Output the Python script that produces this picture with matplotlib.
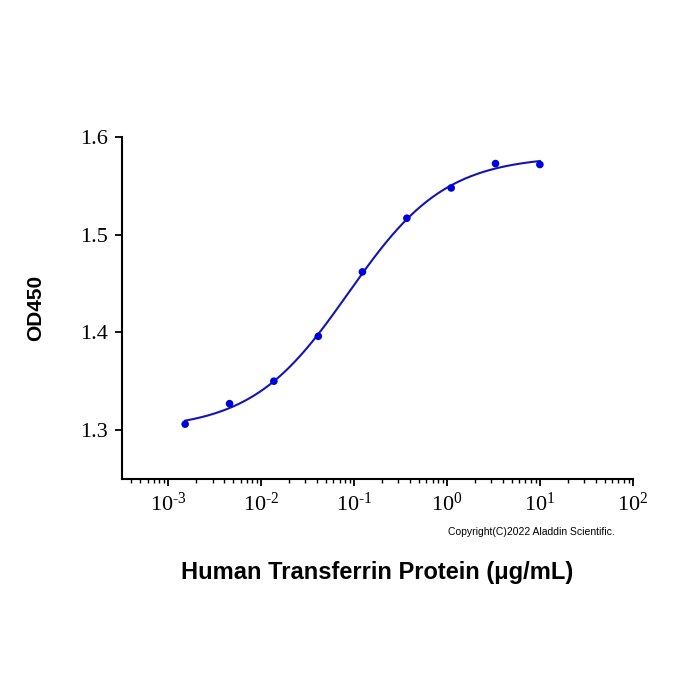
import numpy as np
import matplotlib
matplotlib.use("Agg")
import matplotlib.pyplot as plt

# measured points (concentration in ug/mL, OD450)
conc = [0.00152, 0.00457, 0.0137, 0.0412, 0.123, 0.370, 1.11, 3.33, 10.0]
od450 = [1.306, 1.327, 1.350, 1.396, 1.462, 1.517, 1.548, 1.573, 1.572]

x_ticks = [1e-3, 1e-2, 1e-1, 1e0, 1e1, 1e2]
x_exps = [-3, -2, -1, 0, 1, 2]
y_ticks = [1.3, 1.4, 1.5, 1.6]

plt.rcParams['mathtext.fontset'] = 'custom'
plt.rcParams['mathtext.rm'] = 'Liberation Serif'
plt.rcParams['mathtext.default'] = 'regular'

x = np.array(conc)
y = np.array(od450)

# 4PL fit: grid over EC50 and hill slope, bottom/top by least squares
best = None
for logc in np.linspace(-2.5, 0, 251):
    for b in np.linspace(0.4, 2.5, 211):
        s = 1.0 / (1.0 + (x / 10**logc) ** b)
        M = np.column_stack([s, 1 - s])
        coef, *_ = np.linalg.lstsq(M, y, rcond=None)
        err = np.sum((M @ coef - y) ** 2)
        if best is None or err < best[0]:
            best = (err, logc, b, coef)
_, logc, b, (bottom, top) = best

xs = np.logspace(np.log10(x.min()), np.log10(x.max()), 300)
ys = top + (bottom - top) / (1.0 + (xs / 10**logc) ** b)

fig = plt.figure(figsize=(7, 7), dpi=100)
ax = fig.add_axes([0.174, 0.316, 0.730, 0.488])

ax.plot(xs, ys, color='#1414B4', lw=1.5)
ax.scatter(x, y, s=30, color='#0000DD', zorder=3, edgecolors='none')

ax.set_xscale('log')
ax.set_xlim(10**-3.5, 1e2)
ax.set_ylim(1.25, 1.6)
ax.set_xticks(x_ticks)
ax.set_xticklabels([f"$10^{{\\text{{{e}}}}}$" for e in x_exps])
ax.set_yticks(y_ticks)
ax.set_yticklabels([f"{v:.1f}" for v in y_ticks])

for s in ['top', 'right']:
    ax.spines[s].set_visible(False)
for s in ['left', 'bottom']:
    ax.spines[s].set_linewidth(1.5)

ax.tick_params(axis='both', which='major', direction='out', length=5, width=1.3,
               labelsize=16, pad=5)
ax.tick_params(axis='x', which='minor', direction='out', length=3, width=1.0)
for lab in ax.get_xticklabels() + ax.get_yticklabels():
    lab.set_fontfamily('Liberation Serif')

ax.set_ylabel('OD450', fontsize=15, fontweight='bold', family='Liberation Sans')
ax.yaxis.set_label_coords(-0.15, 0.5)
ax.set_xlabel('Human Transferrin Protein (μg/mL)', fontsize=17, fontweight='bold',
              family='Liberation Sans')
ax.xaxis.set_label_coords(0.5, -0.24)

fig.text(0.878, 0.24, 'Copyright(C)2022 Aladdin Scientific.', fontsize=7.5,
         family='Liberation Sans', ha='right', va='center')

fig.savefig('out.png', dpi=100)
